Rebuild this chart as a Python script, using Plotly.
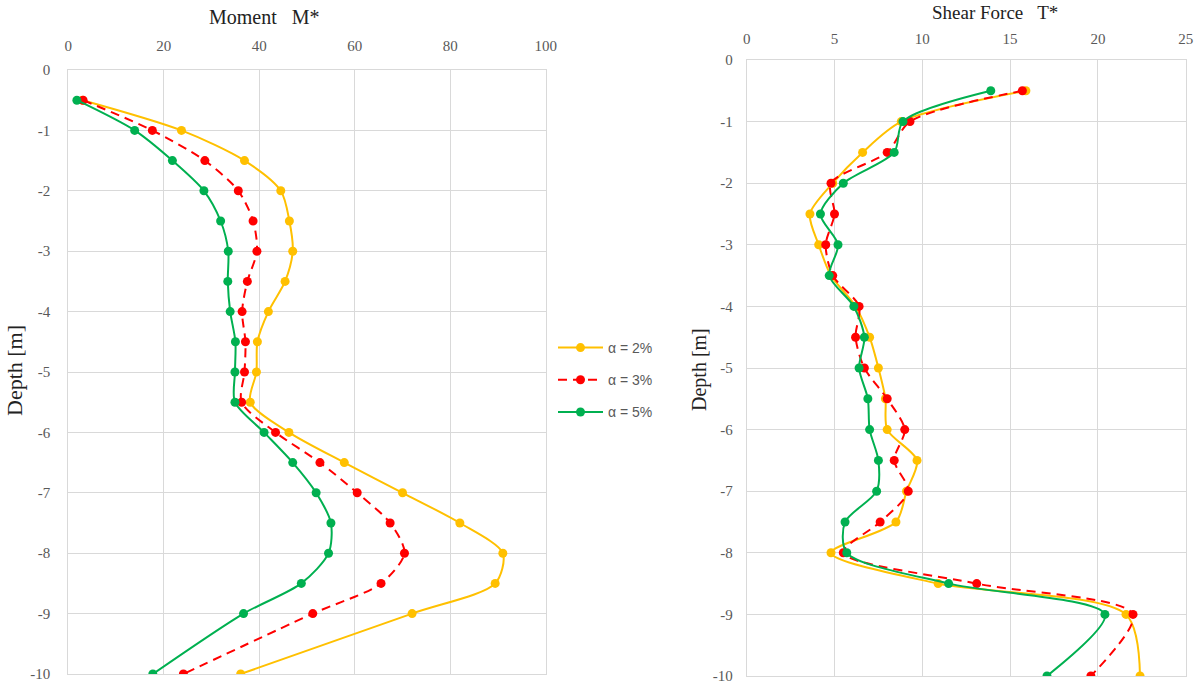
import plotly.graph_objects as go

depth = [-0.5, -1, -1.5, -2, -2.5, -3, -3.5, -4, -4.5, -5, -5.5, -6, -6.5, -7, -7.5, -8, -8.5, -9, -10]

# Moment M*
m_a2 = [3.0, 23.7, 36.9, 44.5, 46.3, 47.0, 45.4, 41.9, 39.6, 39.4, 38.1, 46.2, 57.8, 70.0, 82.0, 91.0, 89.4, 72.0, 36.1]
m_a3 = [3.1, 17.6, 28.6, 35.6, 38.7, 39.5, 37.5, 36.4, 37.1, 36.9, 36.3, 43.4, 52.7, 60.5, 67.4, 70.4, 65.5, 51.2, 24.1]
m_a5 = [1.8, 13.9, 21.8, 28.4, 31.9, 33.5, 33.4, 33.9, 35.0, 34.9, 34.9, 41.0, 47.0, 51.9, 55.0, 54.5, 48.8, 36.7, 17.7]

# Shear Force T*
t_a2 = [15.9, 8.8, 6.6, 4.9, 3.6, 4.1, 4.8, 6.2, 7.0, 7.5, 7.9, 8.0, 9.7, 9.1, 8.5, 4.8, 10.9, 21.6, 22.4]
t_a3 = [15.7, 9.3, 8.0, 4.8, 5.0, 4.5, 4.9, 6.4, 6.2, 6.7, 8.0, 9.0, 8.4, 9.2, 7.6, 5.5, 13.1, 22.0, 19.6]
t_a5 = [13.9, 8.9, 8.4, 5.5, 4.2, 5.2, 4.7, 6.1, 6.7, 6.4, 6.9, 7.0, 7.5, 7.4, 5.6, 5.7, 11.5, 20.4, 17.1]

depth_ticks = [0, -1, -2, -3, -4, -5, -6, -7, -8, -9, -10]
depth_labels = ["0", "-1", "-2", "-3", "-4", "-5", "-6", "-7", "-8", "-9", "-10"]
moment_ticks = [0, 20, 40, 60, 80, 100]
shear_ticks = [0, 5, 10, 15, 20, 25]

names = ["α = 2%", "α = 3%", "α = 5%"]
colors = ["#FFC000", "#FF0000", "#00B050"]
dashes = ["solid", "9px,6px", "solid"]

W, H = 1194, 686
def px_x(p): return p / W
def px_y(p): return 1 - p / H

fig = go.Figure()
for i, (mv, tv) in enumerate(zip([m_a2, m_a3, m_a5], [t_a2, t_a3, t_a5])):
    fig.add_trace(go.Scatter(
        x=mv, y=depth, name=names[i], legendgroup=names[i],
        mode="lines+markers",
        line=dict(color=colors[i], width=2, dash=dashes[i], shape="spline", smoothing=0.8),
        marker=dict(color=colors[i], size=9),
        xaxis="x", yaxis="y", showlegend=True))
    fig.add_trace(go.Scatter(
        x=tv, y=depth, name=names[i], legendgroup=names[i],
        mode="lines+markers",
        line=dict(color=colors[i], width=2, dash=dashes[i], shape="spline", smoothing=0.8),
        marker=dict(color=colors[i], size=9),
        xaxis="x2", yaxis="y2", showlegend=False))

grid = "#D9D9D9"
tickc = "#595959"
serif = "Liberation Serif"

common_x = dict(side="top", showgrid=True, gridcolor=grid, gridwidth=1, zeroline=False,
                showline=True, mirror=True, linecolor=grid, linewidth=1, automargin=False,
                ticks="outside", tickcolor="rgba(0,0,0,0)", tickmode="array")
common_y = dict(showgrid=True, gridcolor=grid, gridwidth=1, zeroline=False,
                showline=True, mirror=True, linecolor=grid, linewidth=1, automargin=False,
                ticks="outside", tickcolor="rgba(0,0,0,0)", range=[-10, 0],
                tickmode="array", tickvals=depth_ticks, ticktext=depth_labels)

fig.update_layout(
    width=W, height=H,
    margin=dict(l=0, r=0, t=0, b=0, autoexpand=False),
    paper_bgcolor="white", plot_bgcolor="white",
    xaxis=dict(common_x, domain=[px_x(68.3), px_x(545.8)], range=[0, 100],
               tickvals=moment_ticks, ticktext=[str(v) for v in moment_ticks],
               anchor="y", ticklen=12, tickfont=dict(family=serif, size=15, color=tickc)),
    yaxis=dict(common_y, domain=[px_y(674), px_y(70)], anchor="x", ticklen=14,
               tickfont=dict(family=serif, size=15, color=tickc)),
    xaxis2=dict(common_x, domain=[px_x(746.7), px_x(1185.7)], range=[0, 25],
                tickvals=shear_ticks, ticktext=[str(v) for v in shear_ticks],
                anchor="y2", ticklen=9, tickfont=dict(family=serif, size=15, color=tickc)),
    yaxis2=dict(common_y, domain=[px_y(676), px_y(60)], anchor="x2", ticklen=10,
                tickfont=dict(family=serif, size=15, color=tickc)),
    legend=dict(x=px_x(553), y=px_y(332), xanchor="left", yanchor="top",
                font=dict(family="Liberation Sans", size=14, color=tickc),
                tracegroupgap=11, itemwidth=45, bgcolor="rgba(0,0,0,0)"),
    showlegend=True,
    annotations=[
        dict(text="Moment   M*", x=px_x(264), y=px_y(17), xref="paper", yref="paper",
             showarrow=False, font=dict(family=serif, size=20, color="#222222"),
             xanchor="center", yanchor="middle"),
        dict(text="Shear Force   T*", x=px_x(995), y=px_y(12), xref="paper", yref="paper",
             showarrow=False, font=dict(family=serif, size=19, color="#222222"),
             xanchor="center", yanchor="middle"),
        dict(text="Depth [m]", x=px_x(14), y=px_y(371), xref="paper", yref="paper",
             showarrow=False, textangle=-90, font=dict(family=serif, size=22, color="#222222"),
             xanchor="center", yanchor="middle"),
        dict(text="Depth [m]", x=px_x(700), y=px_y(369), xref="paper", yref="paper",
             showarrow=False, textangle=-90, font=dict(family=serif, size=20, color="#222222"),
             xanchor="center", yanchor="middle"),
    ],
)

fig.write_html("out.html", config={"displayModeBar": False, "staticPlot": True},
               post_script="document.body.style.margin='0';document.body.style.overflow='hidden';")
